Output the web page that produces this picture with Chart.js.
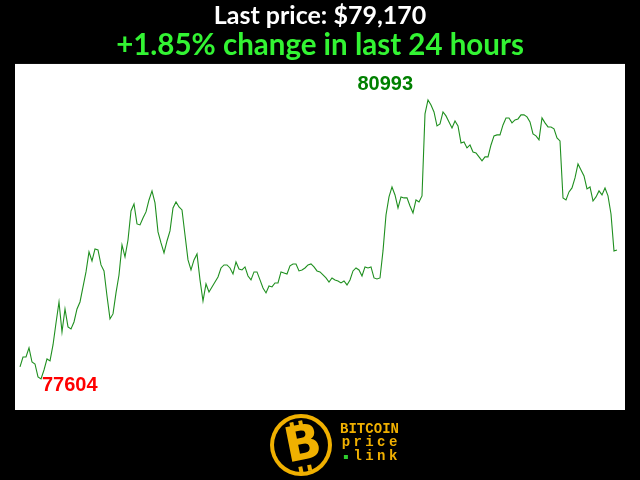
<!DOCTYPE html>
<html>
<head>
<meta charset="utf-8">
<script src="https://cdn.jsdelivr.net/npm/chart.js@4.4.1/dist/chart.umd.min.js"></script>
<style>
  html, body { margin: 0; padding: 0; background: #000; }
</style>
</head>
<body>
<canvas id="chart" width="640" height="480"></canvas>
<script>
// Price samples over the last 24 hours (USD)
const prices = [
  77750, 77871, 77871, 77981, 77810, 77786, 77628, 77604, 77713, 77847,
  77823, 78017, 78284, 78539, 78175, 78454, 78236, 78211, 78296, 78454,
  78539, 78722, 78904, 79147, 79037, 79183, 79171, 78989, 78916, 78612,
  78333, 78394, 78649, 78867, 79232, 79086, 79292, 79645, 79730, 79487,
  79475, 79560, 79633, 79778, 79888, 79742, 79390, 79256, 79135, 79280,
  79402, 79681, 79754, 79693, 79657, 79353, 79050, 78928, 79050, 79122,
  78807, 78551, 78758, 78661, 78722, 78782, 78843, 78952, 78989, 78989,
  78952, 78879, 79025, 78940, 78928, 78965, 78855, 78807, 78904, 78904,
  78807, 78709, 78649, 78734, 78722, 78770, 78770, 78904, 78892, 78879,
  78977, 79001, 79001, 78916, 78928, 78952, 78989, 79001, 78965, 78916,
  78904, 78867, 78831, 78782, 78831, 78807, 78794, 78770, 78794, 78746,
  78807, 78916, 78952, 78928, 78855, 78965, 78952, 78965, 78831, 78819,
  78831, 79159, 79596, 79815, 79936, 79839, 79681, 79815, 79803, 79803,
  79705, 79620, 79778, 79754, 79827, 80823, 80993, 80932, 80847, 80677,
  80702, 80847, 80799, 80726, 80653, 80738, 80677, 80471, 80483, 80410,
  80446, 80361, 80349, 80301, 80252, 80301, 80301, 80446, 80556, 80568,
  80568, 80689, 80774, 80774, 80714, 80750, 80762, 80811, 80811, 80787,
  80726, 80580, 80556, 80507, 80774, 80714, 80665, 80665, 80641, 80531,
  80495, 79803, 79778, 79876, 79924, 80046, 80216, 80143, 80070, 79912,
  79936, 79766, 79815, 79888, 79839, 79924, 79827, 79608, 79159, 79170
];
const lastPrice = 79170;
const changePct = 1.85;
const logoLines = ["BITCOIN", "price", "\u2022link"];

const lowIdx = prices.indexOf(Math.min(...prices));
const highIdx = prices.indexOf(Math.max(...prices));

// Black page, white plot area
const background = {
  id: "background",
  beforeDraw(chart) {
    const { ctx, chartArea } = chart;
    ctx.save();
    ctx.fillStyle = "#000";
    ctx.fillRect(0, 0, chart.width, chart.height);
    ctx.fillStyle = "#fff";
    ctx.fillRect(chartArea.left, chartArea.top, chartArea.width, chartArea.height);
    ctx.restore();
  }
};

// Min / max labels next to their points
const extremes = {
  id: "extremes",
  afterDatasetsDraw(chart) {
    const { ctx, scales } = chart;
    ctx.save();
    ctx.font = 'bold 20px "Liberation Sans"';
    ctx.textBaseline = "alphabetic";

    ctx.fillStyle = "#008000";
    ctx.textAlign = "right";
    ctx.fillText(String(prices[highIdx]), scales.x.getPixelForValue(highIdx) - 15, scales.y.getPixelForValue(prices[highIdx]) - 10);

    ctx.fillStyle = "#ff0000";
    ctx.textAlign = "left";
    ctx.fillText(String(prices[lowIdx]), scales.x.getPixelForValue(lowIdx) + 1, scales.y.getPixelForValue(prices[lowIdx]) + 12);
    ctx.restore();
  }
};

// Bitcoin price link logo under the chart
const logo = {
  id: "logo",
  afterDraw(chart) {
    const c = chart.ctx;
    const gold = "#f0b000";
    const cx = 301, cy = 445, r = 31;
    c.save();
    c.fillStyle = gold;
    c.beginPath(); c.arc(cx, cy, r, 0, Math.PI * 2); c.fill();
    c.fillStyle = "#000";
    c.beginPath(); c.arc(cx, cy, r - 4, 0, Math.PI * 2); c.fill();

    c.translate(cx, cy);
    c.rotate(-0.2);
    c.fillStyle = gold;
    c.font = 'bold 48px "DejaVu Sans"';
    c.textAlign = "center";
    c.textBaseline = "middle";
    c.fillText("B", 2, 2);
    c.fillRect(-7, -24, 4, 6);
    c.fillRect(2, -24, 4, 6);
    c.fillRect(-7, 21, 4, 6);
    c.fillRect(2, 21, 4, 6);
    c.restore();

    c.save();
    c.font = 'bold 14px "Liberation Mono"';
    c.textAlign = "center";
    c.textBaseline = "alphabetic";
    const left = 340, right = 399;
    const baselines = [433, 446, 460];
    logoLines.forEach((line, li) => {
      const chars = [...line];
      const cell = (right - left) / chars.length;
      chars.forEach((ch, k) => {
        const x = left + cell * (k + 0.5);
        if (ch === "\u2022") {
          c.fillStyle = "#2ecc2e";
          c.fillRect(x - 2, baselines[li] - 5, 4, 4);
        } else {
          c.fillStyle = gold;
          c.fillText(ch, x, baselines[li]);
        }
      });
    });
    c.restore();
  }
};

const ctx = document.getElementById("chart").getContext("2d");
new Chart(ctx, {
  type: "line",
  data: {
    datasets: [{
      data: prices.map((p, i) => ({ x: i, y: p })),
      borderColor: "#1f8f1f",
      borderWidth: 1.1,
      pointRadius: 0,
      tension: 0,
      fill: false
    }]
  },
  options: {
    responsive: false,
    animation: false,
    layout: { padding: { left: 15, right: 15, top: 0, bottom: 70 } },
    plugins: {
      legend: { display: false },
      tooltip: { enabled: false },
      title: {
        display: true,
        text: "Last price: $" + lastPrice.toLocaleString("en-US"),
        color: "#fff",
        font: { family: "Lato", size: 25, weight: "bold", lineHeight: 1.1 },
        padding: { top: 2, bottom: 0 }
      },
      subtitle: {
        display: true,
        text: "+" + changePct.toFixed(2) + "% change in last 24 hours",
        color: "#33f433",
        font: { family: "Lato", size: 29.5, weight: "bold", lineHeight: 1.1 },
        padding: { top: 0, bottom: 2 }
      }
    },
    scales: {
      x: { type: "linear", display: false, min: -5 / 3, max: prices.length - 1 + 8 / 3 },
      y: { display: false, min: 77227, max: 81430 }
    }
  },
  plugins: [background, extremes, logo]
});
</script>
</body>
</html>
